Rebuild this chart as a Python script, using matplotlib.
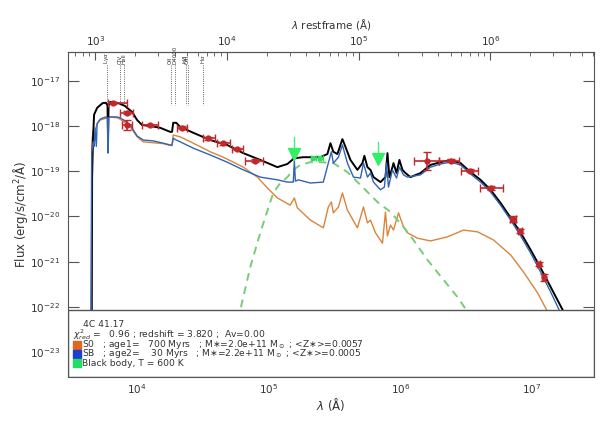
import numpy as np
import matplotlib
matplotlib.use('Agg')
from matplotlib import pyplot as plt
from matplotlib.patches import Rectangle
from matplotlib.ticker import NullLocator

redshift = 3.820

# model curves: log10 of observed wavelength (A) and log10 flux
total_loglam = [3.655, 3.658, 3.665, 3.673, 3.696, 3.719, 3.741, 3.764, 3.775, 3.779, 3.783, 3.795,
                3.817, 3.848, 3.871, 3.909, 3.924, 3.962, 4.000, 4.038, 4.099, 4.175, 4.251, 4.265,
                4.274, 4.297, 4.327, 4.426, 4.555, 4.684, 4.806, 4.935, 5.065, 5.141, 5.186, 5.194,
                5.202, 5.262, 5.392, 5.445, 5.468, 5.490, 5.521, 5.559, 5.582, 5.620, 5.673, 5.711,
                5.726, 5.749, 5.772, 5.795, 5.848, 5.886, 5.901, 5.916, 5.939, 5.947, 5.970, 5.992,
                6.015, 6.038, 6.076, 6.152, 6.228, 6.304, 6.380, 6.456, 6.532, 6.608, 6.684, 6.760,
                6.837, 6.913, 6.989, 7.065, 7.141, 7.240, 7.300]
total_logflux = [-22.5, -19.13, -18.27, -17.75, -17.60, -17.54, -17.49, -17.49, -17.55, -18.35, -17.55, -17.47,
                 -17.47, -17.49, -17.51, -17.56, -17.60, -17.69, -17.87, -17.98, -18.00, -18.04, -18.13, -18.13,
                 -17.93, -17.93, -18.02, -18.15, -18.31, -18.42, -18.60, -18.75, -18.91, -18.84, -18.73, -18.66,
                 -18.71, -18.69, -18.69, -18.62, -18.38, -18.57, -18.62, -18.29, -18.46, -18.75, -18.97, -18.82,
                 -18.66, -18.91, -18.97, -19.13, -19.24, -19.13, -18.60, -19.13, -18.91, -18.82, -19.04, -18.75,
                 -18.97, -19.04, -19.13, -19.04, -18.86, -18.80, -18.75, -18.82, -19.02, -19.19, -19.41, -19.70,
                 -20.03, -20.36, -20.74, -21.14, -21.56, -22.11, -22.5]

sb_loglam = [3.650, 3.655, 3.665, 3.673, 3.680, 3.690, 3.696, 3.719, 3.741, 3.764, 3.775, 3.779, 3.783,
             3.795, 3.848, 3.871, 3.909, 3.947, 4.000, 4.046, 4.122, 4.198, 4.251, 4.265, 4.274, 4.297,
             4.327, 4.426, 4.555, 4.684, 4.806, 4.935, 5.065, 5.141, 5.186, 5.194, 5.202, 5.224, 5.316,
             5.414, 5.452, 5.475, 5.490, 5.529, 5.559, 5.597, 5.643, 5.696, 5.719, 5.749, 5.772, 5.795,
             5.848, 5.878, 5.894, 5.909, 5.939, 5.970, 5.992, 6.023, 6.053, 6.152, 6.228, 6.304, 6.380,
             6.456, 6.532, 6.608, 6.684, 6.760, 6.837, 6.913, 6.989, 7.065, 7.141, 7.209, 7.270]
sb_logflux = [-22.5, -18.60, -18.35, -18.45, -18.05, -18.45, -17.95, -17.85, -17.82, -17.80, -17.82, -18.60, -17.82,
              -17.80, -17.80, -17.82, -17.89, -17.98, -18.22, -18.31, -18.33, -18.38, -18.42, -18.42, -18.27, -18.31,
              -18.35, -18.49, -18.64, -18.80, -18.97, -19.13, -19.19, -19.24, -19.24, -18.77, -19.22, -19.19, -19.26,
              -19.24, -18.82, -18.57, -18.82, -18.69, -18.42, -18.82, -19.13, -19.15, -18.82, -19.13, -19.04, -19.24,
              -19.41, -19.35, -18.82, -19.35, -18.97, -19.15, -18.91, -19.08, -19.13, -19.08, -18.91, -18.84, -18.80,
              -18.86, -19.06, -19.24, -19.46, -19.75, -20.08, -20.43, -20.81, -21.23, -21.67, -22.09, -22.5]

so_loglam = [3.650, 3.655, 3.665, 3.680, 3.696, 3.719, 3.795, 3.848, 3.871, 3.947, 4.000, 4.046, 4.122,
             4.198, 4.251, 4.265, 4.274, 4.327, 4.426, 4.555, 4.654, 4.806, 4.913, 4.989, 5.065, 5.163,
             5.194, 5.217, 5.316, 5.414, 5.452, 5.475, 5.490, 5.529, 5.559, 5.597, 5.673, 5.719, 5.749,
             5.772, 5.810, 5.863, 5.886, 5.901, 5.924, 5.947, 5.985, 6.023, 6.053, 6.129, 6.228, 6.357,
             6.479, 6.586, 6.707, 6.837, 6.935, 7.042, 7.118, 7.160]
so_logflux = [-22.5, -18.40, -18.10, -18.10, -17.95, -17.87, -17.80, -17.82, -17.85, -18.02, -18.24, -18.35, -18.37,
              -18.39, -18.43, -18.43, -18.20, -18.24, -18.38, -18.57, -18.69, -18.91, -19.13, -19.37, -19.59, -19.75,
              -19.59, -19.81, -20.08, -20.25, -19.79, -19.68, -19.92, -19.79, -19.48, -19.86, -20.25, -19.79, -20.14,
              -20.08, -20.36, -20.59, -19.90, -20.43, -20.19, -20.30, -19.92, -20.23, -20.36, -20.48, -20.54, -20.45,
              -20.30, -20.34, -20.52, -20.85, -21.23, -21.69, -22.11, -22.5]

bb_loglam = [4.760, 4.783, 4.859, 4.935, 5.011, 5.034, 5.087, 5.141, 5.186, 5.240, 5.316, 5.392, 5.490,
             5.597, 5.719, 5.825, 5.924, 6.023, 6.099, 6.205, 6.327, 6.433, 6.510, 6.550]
bb_logflux = [-22.6, -22.07, -21.12, -20.36, -19.68, -19.48, -19.26, -19.13, -18.97, -18.86, -18.80, -18.80, -18.82,
              -19.02, -19.37, -19.68, -19.90, -20.23, -20.52, -20.96, -21.40, -21.78, -22.11, -22.4]

# photometry: log10 lambda, filter edges, log10 flux, flux error (dex)
phot_loglam = [3.817, 3.924, 3.924, 4.099, 4.342, 4.540, 4.654, 4.760, 4.897,
               6.205, 6.380, 6.525, 6.684, 6.852, 6.905, 7.049, 7.087]
phot_lo = [3.779, 3.871, 3.886, 4.038, 4.304, 4.502, 4.608, 4.722, 4.821,
           6.099, 6.289, 6.456, 6.601, 6.830, 6.890, 7.035, 7.075]
phot_hi = [3.924, 3.970, 3.962, 4.160, 4.380, 4.593, 4.707, 4.806, 4.958,
           6.289, 6.441, 6.586, 6.776, 6.875, 6.920, 7.062, 7.100]
phot_logflux = [-17.49, -17.71, -17.98, -17.98, -18.04, -18.27, -18.38, -18.51, -18.77,
                -18.77, -18.77, -18.99, -19.37, -20.06, -20.32, -21.05, -21.34]
phot_err = [0.03, 0.03, 0.11, 0.03, 0.03, 0.03, 0.03, 0.03, 0.03,
            0.20, 0.03, 0.03, 0.04, 0.06, 0.04, 0.05, 0.08]

# upper limits
ul_loglam = [5.194, 5.833]
ul_top = [-18.24, -18.35]
ul_logflux = [-18.62, -18.73]
ir_loglam = [5.338, 5.392]
ir_logflux = [-18.71, -18.71]

# emission / absorption features (rest frame A)
line_names = ['Ly$\\alpha$', 'CIV', 'HeII', 'OII', 'D4000', 'H$\\beta$', 'OIII', 'H$\\alpha$']
line_rest = [1216, 1549, 1640, 3727, 4000, 4861, 5007, 6563]

legend_lines = ['S0   ; age1=   700 Myrs   ; M$\\ast$=2.0e+11 M$_\\odot$ ; <Z$\\ast$>=0.0057',
                'SB   ; age2=    30 Myrs   ; M$\\ast$=2.2e+11 M$_\\odot$ ; <Z$\\ast$>=0.0005',
                'Black body, T = 600 K']
legend_colors = ['#e0681c', '#1c3fd0', '#22dd66']

plt.rcParams['font.family'] = ['DejaVu Sans']
grey = '#555555'
tcol = '#333333'

fig = plt.figure(figsize=(6.15, 4.24), dpi=100)
ax = fig.add_axes([0.1106, 0.1108, 0.8553, 0.7666])
ax.set_xscale('log')
ax.set_yscale('log')

ax.plot(10**np.array(so_loglam), 10**np.array(so_logflux), color='#d9853b', lw=1.0, zorder=2)
ax.plot(10**np.array(bb_loglam), 10**np.array(bb_logflux), color='#77cc77', lw=1.4, ls=(0, (4, 3)), zorder=2)
ax.plot(10**np.array(total_loglam), 10**np.array(total_logflux), color='black', lw=1.4, zorder=2)
ax.plot(10**np.array(sb_loglam), 10**np.array(sb_logflux), color='#3064b4', lw=1.0, zorder=2)

lam = 10**np.array(phot_loglam)
fl = 10**np.array(phot_logflux)
xerr = [lam - 10**np.array(phot_lo), 10**np.array(phot_hi) - lam]
yerr = [fl - 10**(np.array(phot_logflux) - np.array(phot_err)), 10**(np.array(phot_logflux) + np.array(phot_err)) - fl]
ax.errorbar(lam, fl, xerr=xerr, yerr=yerr, fmt='o', ms=3.5, color='#c0282c', ecolor='#c0282c',
            elinewidth=1.2, capsize=3, zorder=2.2)

for x, top, y in zip(ul_loglam, ul_top, ul_logflux):
    ax.plot([10**x, 10**x], [10**top, 10**(y + 0.08)], color='#44ee77', lw=1.0, zorder=2.3)
    ax.plot(10**x, 10**y, marker='v', ms=8, color='#33ee66', zorder=2.3)
ax.errorbar(10**np.array(ir_loglam), 10**np.array(ir_logflux), xerr=[10**np.array(ir_loglam) * 0.04, 10**np.array(ir_loglam) * 0.04],
            fmt='o', ms=3, color='#33dd66', elinewidth=1, capsize=2, zorder=2.3)

for name, rest in zip(line_names, line_rest):
    x = rest * (1 + redshift)
    ax.plot([x, x], [10**-16.66, 10**-17.54], color=tcol, lw=0.6, ls=':', zorder=2)
    ax.text(x, 10**-16.63, name, rotation=90, fontsize=4, ha='center', va='bottom', color=tcol)

# info panel at the bottom
panel_h = 0.206
ax.add_patch(Rectangle((0, 0), 1, panel_h, transform=ax.transAxes, facecolor='white',
                       edgecolor=grey, lw=1, zorder=2.4))
ax.text(0.0285, 0.162, '4C 41.17', transform=ax.transAxes, fontsize=6.6, color=tcol, va='center', zorder=5)
ax.text(0.009, 0.130, '$\\chi^2_{red}$ =   0.96 ; redshift = 3.820 ;  Av=0.00', transform=ax.transAxes,
        fontsize=6.6, color=tcol, va='center', zorder=5)
for i, (txt, c) in enumerate(zip(legend_lines, legend_colors)):
    yy = 0.099 - i * 0.028
    ax.scatter([0.0165], [yy], marker='s', s=28, color=c, transform=ax.transAxes, zorder=5)
    ax.text(0.027, yy, txt, transform=ax.transAxes, fontsize=6.6, color=tcol, va='center', zorder=5)

ax.set_xlim(10**3.475, 10**7.47)
ax.set_ylim(10**-23.547, 10**-16.365)
ax.set_xticks([1e4, 1e5, 1e6, 1e7])
ax.set_yticks([1e-23, 1e-22, 1e-21, 1e-20, 1e-19, 1e-18, 1e-17])
ax.yaxis.set_minor_locator(NullLocator())
yt = ax.yaxis.get_major_ticks()
yt[0].tick1line.set_visible(False)
yt[0].tick2line.set_visible(False)

ax.tick_params(axis='both', which='both', direction='in', colors=grey, labelcolor=tcol, labelsize=7.5)
ax.tick_params(axis='x', which='major', length=6, top=False, pad=4)
ax.tick_params(axis='x', which='minor', length=3, top=False)
ax.tick_params(axis='y', which='major', length=8, right=True, pad=6)
for s in ax.spines.values():
    s.set_color(grey)

secax = ax.secondary_xaxis('top', functions=(lambda x: x / (1 + redshift), lambda x: x * (1 + redshift)))
secax.set_xticks([1e3, 1e4, 1e5, 1e6])
secax.tick_params(axis='x', which='major', direction='in', length=6, colors=grey, labelcolor=tcol, labelsize=7.5, pad=3)
secax.tick_params(axis='x', which='minor', direction='in', length=3, colors=grey)
secax.spines['top'].set_color(grey)
secax.set_xlabel('$\\lambda$ restframe (Å)', fontsize=7.5, color=tcol, labelpad=4)

ax.set_xlabel('$\\lambda$ (Å)', fontsize=8.5, color=tcol, labelpad=0)
ax.set_ylabel('Flux (erg/s/cm$^2$/Å)', fontsize=8.5, color=tcol, labelpad=0)

fig.savefig('out.png', dpi=100)
